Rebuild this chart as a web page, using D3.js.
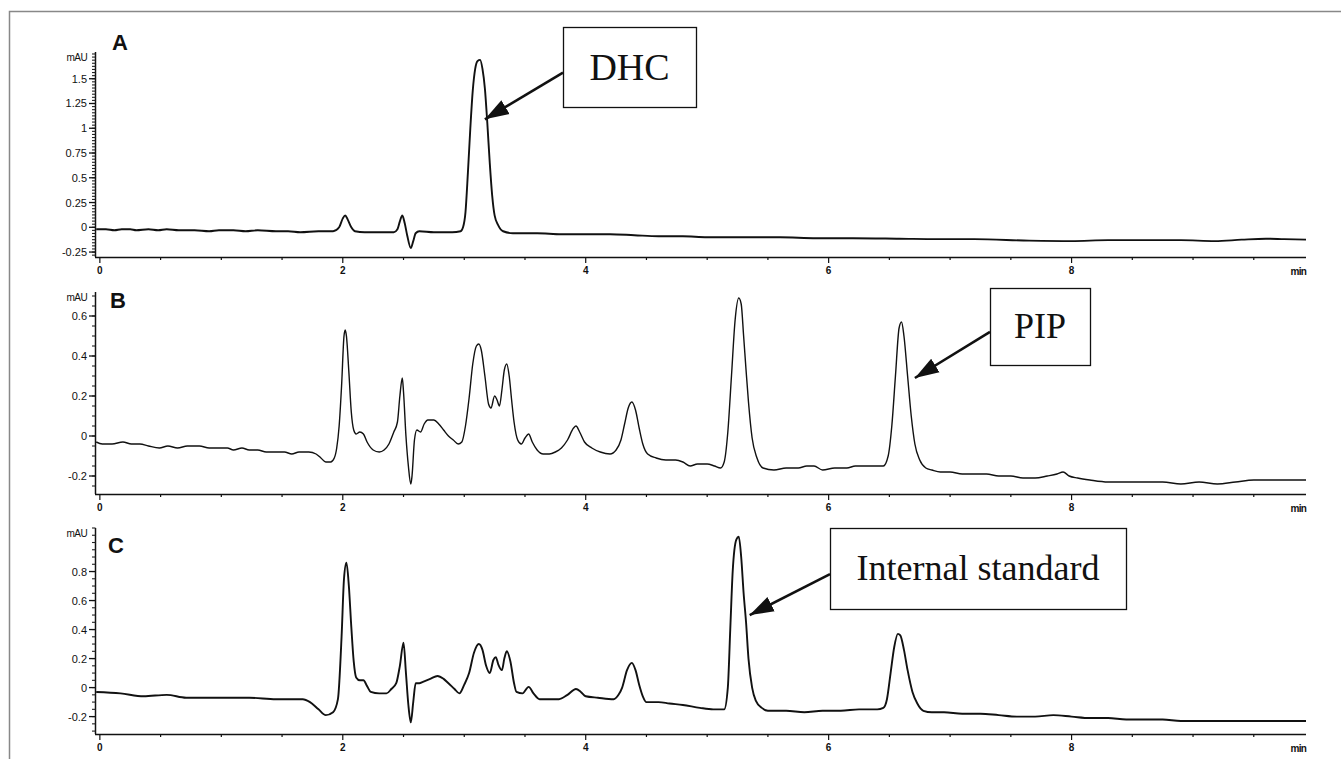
<!DOCTYPE html>
<html>
<head>
<meta charset="utf-8">
<script src="https://cdn.jsdelivr.net/npm/d3@7"></script>
<style>
  body { margin: 0; background: #fff; }
  svg { display: block; }
  .tick-label { font-family: "Liberation Sans", Arial, sans-serif; font-size: 11px; fill: #111; }
  .panel-label { font-family: "Liberation Sans", Arial, sans-serif; font-size: 22px; font-weight: bold; fill: #111; }
  .note { font-family: "Liberation Serif", "Times New Roman", serif; fill: #111; }
</style>
</head>
<body>
<div id="chart"></div>
<script>
"use strict"

// retention time (min), absorbance (mAU)
const traceA = [
  [-0.03,-0.02],[0.05,-0.02],[0.12,-0.03],[0.18,-0.02],[0.25,-0.02],[0.3,-0.03],[0.4,-0.02],[0.48,-0.03],
  [0.55,-0.02],[0.65,-0.03],[0.78,-0.03],[0.9,-0.04],[0.98,-0.03],[1.1,-0.03],[1.2,-0.04],[1.3,-0.03],
  [1.45,-0.04],[1.55,-0.04],[1.65,-0.05],[1.8,-0.04],[1.92,-0.04],[1.97,0.0],[2.0,0.09],[2.02,0.12],
  [2.04,0.08],[2.07,0.0],[2.1,-0.04],[2.18,-0.05],[2.3,-0.05],[2.42,-0.05],[2.45,-0.02],[2.47,0.06],
  [2.49,0.12],[2.51,0.04],[2.53,-0.08],[2.56,-0.21],[2.58,-0.14],[2.6,-0.06],[2.63,-0.04],[2.75,-0.05],
  [2.9,-0.05],[2.97,-0.04],[2.99,0.0],[3.01,0.15],[3.03,0.55],[3.05,1.0],[3.07,1.38],[3.09,1.6],
  [3.11,1.68],[3.13,1.69],[3.15,1.6],[3.17,1.4],[3.19,1.05],[3.21,0.65],[3.23,0.32],[3.25,0.12],
  [3.28,0.02],[3.32,-0.04],[3.4,-0.06],[3.6,-0.06],[3.8,-0.07],[4.0,-0.07],[4.2,-0.07],[4.4,-0.08],
  [4.6,-0.09],[4.8,-0.09],[5.0,-0.10],[5.3,-0.10],[5.6,-0.10],[5.9,-0.11],[6.2,-0.11],[6.58,-0.115],
  [6.9,-0.12],[7.2,-0.12],[7.65,-0.135],[8.0,-0.14],[8.3,-0.13],[8.6,-0.13],[8.9,-0.13],[9.18,-0.14],
  [9.4,-0.125],[9.6,-0.115],[9.75,-0.12],[9.93,-0.125]
];

const traceB = [
  [-0.03,-0.03],[0.02,-0.04],[0.1,-0.04],[0.19,-0.03],[0.26,-0.04],[0.33,-0.04],[0.4,-0.05],[0.49,-0.06],
  [0.56,-0.05],[0.64,-0.06],[0.72,-0.05],[0.82,-0.05],[0.9,-0.06],[0.97,-0.06],[1.05,-0.06],[1.1,-0.07],
  [1.17,-0.06],[1.23,-0.07],[1.3,-0.07],[1.37,-0.08],[1.45,-0.08],[1.52,-0.08],[1.58,-0.09],[1.64,-0.08],
  [1.72,-0.08],[1.78,-0.09],[1.82,-0.11],[1.86,-0.13],[1.9,-0.13],[1.93,-0.11],[1.95,-0.06],[1.97,0.05],
  [1.99,0.25],[2.01,0.5],[2.02,0.53],[2.03,0.5],[2.05,0.32],[2.07,0.12],[2.09,0.03],[2.11,0.01],
  [2.14,0.02],[2.17,0.01],[2.2,-0.03],[2.25,-0.07],[2.3,-0.08],[2.34,-0.07],[2.38,-0.04],[2.42,0.02],
  [2.45,0.07],[2.47,0.2],[2.49,0.29],[2.5,0.22],[2.52,0.0],[2.54,-0.15],[2.56,-0.24],[2.57,-0.2],
  [2.59,-0.02],[2.61,0.03],[2.64,0.02],[2.67,0.06],[2.7,0.08],[2.75,0.08],[2.79,0.06],[2.83,0.03],
  [2.87,0.0],[2.91,-0.02],[2.95,-0.04],[2.98,-0.03],[3.01,0.05],[3.04,0.19],[3.07,0.36],[3.1,0.45],
  [3.12,0.46],[3.14,0.43],[3.17,0.3],[3.2,0.16],[3.22,0.14],[3.25,0.2],[3.27,0.18],[3.29,0.15],
  [3.31,0.23],[3.33,0.33],[3.35,0.36],[3.37,0.3],[3.39,0.18],[3.41,0.07],[3.44,-0.02],[3.47,-0.04],
  [3.5,-0.01],[3.53,0.01],[3.56,-0.03],[3.6,-0.07],[3.65,-0.09],[3.7,-0.09],[3.75,-0.08],[3.8,-0.06],
  [3.85,-0.02],[3.9,0.04],[3.92,0.05],[3.95,0.02],[3.99,-0.03],[4.05,-0.06],[4.12,-0.08],[4.2,-0.09],
  [4.25,-0.07],[4.29,-0.02],[4.32,0.06],[4.35,0.14],[4.38,0.17],[4.41,0.13],[4.44,0.04],[4.47,-0.04],
  [4.51,-0.09],[4.58,-0.11],[4.66,-0.12],[4.74,-0.12],[4.8,-0.13],[4.86,-0.15],[4.92,-0.14],[5.0,-0.14],
  [5.06,-0.15],[5.11,-0.16],[5.14,-0.13],[5.17,0.02],[5.2,0.3],[5.23,0.58],[5.26,0.69],[5.28,0.66],
  [5.3,0.5],[5.32,0.33],[5.34,0.17],[5.37,-0.01],[5.41,-0.11],[5.46,-0.16],[5.55,-0.17],[5.65,-0.16],
  [5.75,-0.16],[5.82,-0.15],[5.88,-0.15],[5.95,-0.17],[6.05,-0.16],[6.15,-0.16],[6.22,-0.15],[6.3,-0.15],
  [6.38,-0.15],[6.45,-0.15],[6.49,-0.1],[6.52,0.05],[6.55,0.3],[6.58,0.54],[6.6,0.57],[6.62,0.5],
  [6.65,0.3],[6.68,0.1],[6.71,-0.04],[6.75,-0.12],[6.8,-0.16],[6.85,-0.17],[6.92,-0.18],[7.0,-0.18],
  [7.1,-0.19],[7.2,-0.19],[7.3,-0.19],[7.4,-0.2],[7.5,-0.2],[7.6,-0.21],[7.7,-0.21],[7.8,-0.2],
  [7.88,-0.19],[7.93,-0.18],[7.98,-0.2],[8.05,-0.21],[8.15,-0.22],[8.3,-0.23],[8.45,-0.23],[8.6,-0.23],
  [8.75,-0.23],[8.9,-0.24],[9.05,-0.23],[9.2,-0.24],[9.35,-0.23],[9.5,-0.22],[9.6,-0.22],[9.75,-0.22],
  [9.93,-0.22]
];

const traceC = [
  [-0.03,-0.03],[0.17,-0.04],[0.36,-0.06],[0.55,-0.05],[0.71,-0.07],[0.9,-0.07],[1.1,-0.07],[1.23,-0.07],
  [1.45,-0.08],[1.67,-0.08],[1.73,-0.1],[1.8,-0.15],[1.86,-0.19],[1.92,-0.17],[1.96,-0.08],[1.99,0.35],
  [2.01,0.75],[2.03,0.86],[2.05,0.7],[2.07,0.42],[2.09,0.18],[2.11,0.07],[2.14,0.05],[2.17,0.05],
  [2.2,0.01],[2.23,-0.03],[2.3,-0.04],[2.36,-0.04],[2.4,-0.01],[2.44,0.03],[2.47,0.15],[2.5,0.31],
  [2.52,0.1],[2.54,-0.12],[2.56,-0.24],[2.58,-0.1],[2.6,0.03],[2.63,0.03],[2.66,0.04],[2.72,0.06],
  [2.78,0.08],[2.83,0.06],[2.87,0.03],[2.92,-0.01],[2.96,-0.04],[3.0,0.02],[3.04,0.1],[3.08,0.24],
  [3.12,0.3],[3.15,0.26],[3.18,0.15],[3.21,0.1],[3.24,0.19],[3.26,0.21],[3.28,0.16],[3.31,0.12],
  [3.33,0.2],[3.35,0.25],[3.38,0.18],[3.41,0.03],[3.43,-0.03],[3.48,-0.04],[3.53,0.005],[3.57,-0.04],
  [3.62,-0.08],[3.7,-0.08],[3.78,-0.08],[3.85,-0.05],[3.92,-0.01],[3.96,-0.03],[4.0,-0.06],[4.1,-0.07],
  [4.23,-0.08],[4.27,-0.05],[4.3,0.0],[4.34,0.12],[4.38,0.17],[4.41,0.12],[4.44,0.02],[4.47,-0.06],
  [4.5,-0.1],[4.6,-0.1],[4.69,-0.11],[4.8,-0.12],[4.94,-0.14],[5.05,-0.15],[5.14,-0.15],[5.17,0.0],
  [5.19,0.4],[5.21,0.8],[5.24,1.02],[5.26,1.04],[5.28,0.9],[5.3,0.65],[5.32,0.45],[5.34,0.2],
  [5.37,0.0],[5.4,-0.09],[5.45,-0.14],[5.5,-0.16],[5.65,-0.16],[5.8,-0.17],[5.95,-0.16],[6.1,-0.16],
  [6.25,-0.15],[6.4,-0.15],[6.45,-0.14],[6.48,-0.08],[6.51,0.1],[6.54,0.28],[6.57,0.37],[6.59,0.36],
  [6.62,0.26],[6.65,0.12],[6.69,-0.03],[6.73,-0.11],[6.78,-0.16],[6.85,-0.17],[6.95,-0.17],[7.1,-0.18],
  [7.25,-0.18],[7.4,-0.19],[7.55,-0.2],[7.7,-0.2],[7.85,-0.19],[8.0,-0.2],[8.15,-0.21],[8.3,-0.21],
  [8.45,-0.22],[8.6,-0.22],[8.75,-0.22],[8.9,-0.23],[9.05,-0.23],[9.2,-0.23],[9.4,-0.23],[9.6,-0.23],
  [9.8,-0.23],[9.93,-0.23]
];

const yTicksA = [-0.25, 0, 0.25, 0.5, 0.75, 1, 1.25, 1.5];
const yTicksB = [-0.2, 0, 0.2, 0.4, 0.6];
const yTicksC = [-0.2, 0, 0.2, 0.4, 0.6, 0.8];
const xTicks = [0, 2, 4, 6, 8];

// label, retention time and mAU the arrow points to
const notes = [
  { panel: "A", text: "DHC", t: 3.17, v: 1.09 },
  { panel: "B", text: "PIP", t: 6.71, v: 0.29 },
  { panel: "C", text: "Internal standard", t: 5.35, v: 0.50 }
];

var width = 1341, height = 759;

var svg = d3.select("#chart").append("svg")
    .attr("width", width)
    .attr("height", height);

svg.append("defs").append("marker")
    .attr("id", "head")
    .attr("markerUnits", "userSpaceOnUse")
    .attr("viewBox", "0 0 24 18")
    .attr("refX", 24).attr("refY", 9)
    .attr("markerWidth", 24).attr("markerHeight", 18)
    .attr("orient", "auto")
    .append("path")
    .attr("d", "M0,1 L24,9 L0,17 Z")
    .attr("fill", "#111");

// thin frame of the figure
svg.append("path")
    .attr("d", "M9.5,759 L9.5,11.5 L1341,11.5")
    .attr("fill", "none")
    .attr("stroke", "#888")
    .attr("stroke-width", 1.5);

var x = d3.scaleLinear().domain([-0.04, 9.93]).range([95, 1306]);

var panels = [
  { name: "A", data: traceA, ticks: yTicksA, domain: [-0.30, 1.77], range: [257, 52], minor: 0.25 / 8, lw: 1.9,
    box: [563, 27, 133, 80], size: 38, label: [112, 50] },
  { name: "B", data: traceB, ticks: yTicksB, domain: [-0.29, 0.72], range: [494, 292], minor: 0.05, lw: 1.4,
    box: [990, 288, 100, 77], size: 36, label: [110, 308] },
  { name: "C", data: traceC, ticks: yTicksC, domain: [-0.32, 1.10], range: [734, 528], minor: 0.05, lw: 1.9,
    box: [830, 528, 296, 81], size: 36, label: [108, 553] }
];

panels.forEach(function (p) {
    var y = d3.scaleLinear().domain(p.domain).range(p.range);
    var g = svg.append("g");
    var axisY = p.range[0], topY = p.range[1];

    // y axis: line, major and minor ticks
    g.append("line")
        .attr("x1", 95.5).attr("x2", 95.5)
        .attr("y1", topY).attr("y2", axisY)
        .attr("stroke", "#111").attr("stroke-width", 1.5);

    var minorTicks = d3.range(Math.ceil(p.domain[0] / p.minor), Math.floor(p.domain[1] / p.minor) + 1)
        .map(function (k) { return k * p.minor; });
    g.selectAll(".ymin").data(minorTicks).enter().append("line")
        .attr("x1", 92).attr("x2", 95.5)
        .attr("y1", function (d) { return y(d); })
        .attr("y2", function (d) { return y(d); })
        .attr("stroke", "#222").attr("stroke-width", 1.1);

    g.selectAll(".ymaj").data(p.ticks).enter().append("line")
        .attr("x1", 89).attr("x2", 95.5)
        .attr("y1", function (d) { return y(d); })
        .attr("y2", function (d) { return y(d); })
        .attr("stroke", "#111").attr("stroke-width", 1.3);

    g.selectAll(".ylab").data(p.ticks).enter().append("text")
        .attr("class", "tick-label")
        .attr("x", 87)
        .attr("y", function (d) { return y(d) + 4; })
        .attr("text-anchor", "end")
        .text(function (d) { return d; });

    g.append("text")
        .attr("class", "tick-label")
        .attr("x", 87).attr("y", topY + 9)
        .attr("text-anchor", "end")
        .style("font-size", "10px")
        .style("letter-spacing", "-0.6px")
        .text("mAU");

    // x axis
    g.append("line")
        .attr("x1", 95).attr("x2", 1306)
        .attr("y1", axisY + 0.5).attr("y2", axisY + 0.5)
        .attr("stroke", "#111").attr("stroke-width", 1.5);

    g.selectAll(".xmin").data(d3.range(0, 20).map(function (k) { return k * 0.5; })).enter().append("line")
        .attr("x1", function (d) { return x(d); })
        .attr("x2", function (d) { return x(d); })
        .attr("y1", axisY).attr("y2", function (d) { return d % 2 === 0 ? axisY + 6 : axisY + 3; })
        .attr("stroke", "#111").attr("stroke-width", 1.2);

    g.selectAll(".xlab").data(xTicks).enter().append("text")
        .attr("class", "tick-label")
        .attr("x", function (d) { return x(d); })
        .attr("y", axisY + 17)
        .attr("text-anchor", "middle")
        .style("font-weight", "bold")
        .style("font-size", "10px")
        .text(function (d) { return d; });

    g.append("text")
        .attr("class", "tick-label")
        .attr("x", 1306).attr("y", axisY + 18)
        .attr("text-anchor", "end")
        .style("font-weight", "bold")
        .style("font-size", "10px")
        .style("letter-spacing", "-0.8px")
        .text("min");

    g.append("text")
        .attr("class", "panel-label")
        .attr("x", p.label[0]).attr("y", p.label[1])
        .text(p.name);

    // the trace
    g.append("path")
        .datum(p.data)
        .attr("fill", "none")
        .attr("stroke", "#111")
        .attr("stroke-width", p.lw)
        .attr("stroke-linejoin", "round")
        .attr("d", d3.line()
            .x(function (d) { return x(d[0]); })
            .y(function (d) { return y(d[1]); })
            .curve(d3.curveMonotoneX));

    // annotation box and arrow
    notes.filter(function (n) { return n.panel === p.name; }).forEach(function (n) {
        var b = p.box;
        g.append("rect")
            .attr("x", b[0] + 0.5).attr("y", b[1] + 0.5)
            .attr("width", b[2]).attr("height", b[3])
            .attr("fill", "#fff")
            .attr("stroke", "#111").attr("stroke-width", 1.3);
        g.append("text")
            .attr("class", "note")
            .attr("x", b[0] + b[2] / 2)
            .attr("y", b[1] + b[3] / 2 + p.size * 0.33)
            .attr("text-anchor", "middle")
            .style("font-size", p.size + "px")
            .text(n.text);
        g.append("line")
            .attr("x1", b[0]).attr("y1", b[1] + b[3] * 0.57)
            .attr("x2", x(n.t)).attr("y2", y(n.v))
            .attr("stroke", "#111").attr("stroke-width", 2.6)
            .attr("marker-end", "url(#head)");
    });
});
</script>
</body>
</html>
